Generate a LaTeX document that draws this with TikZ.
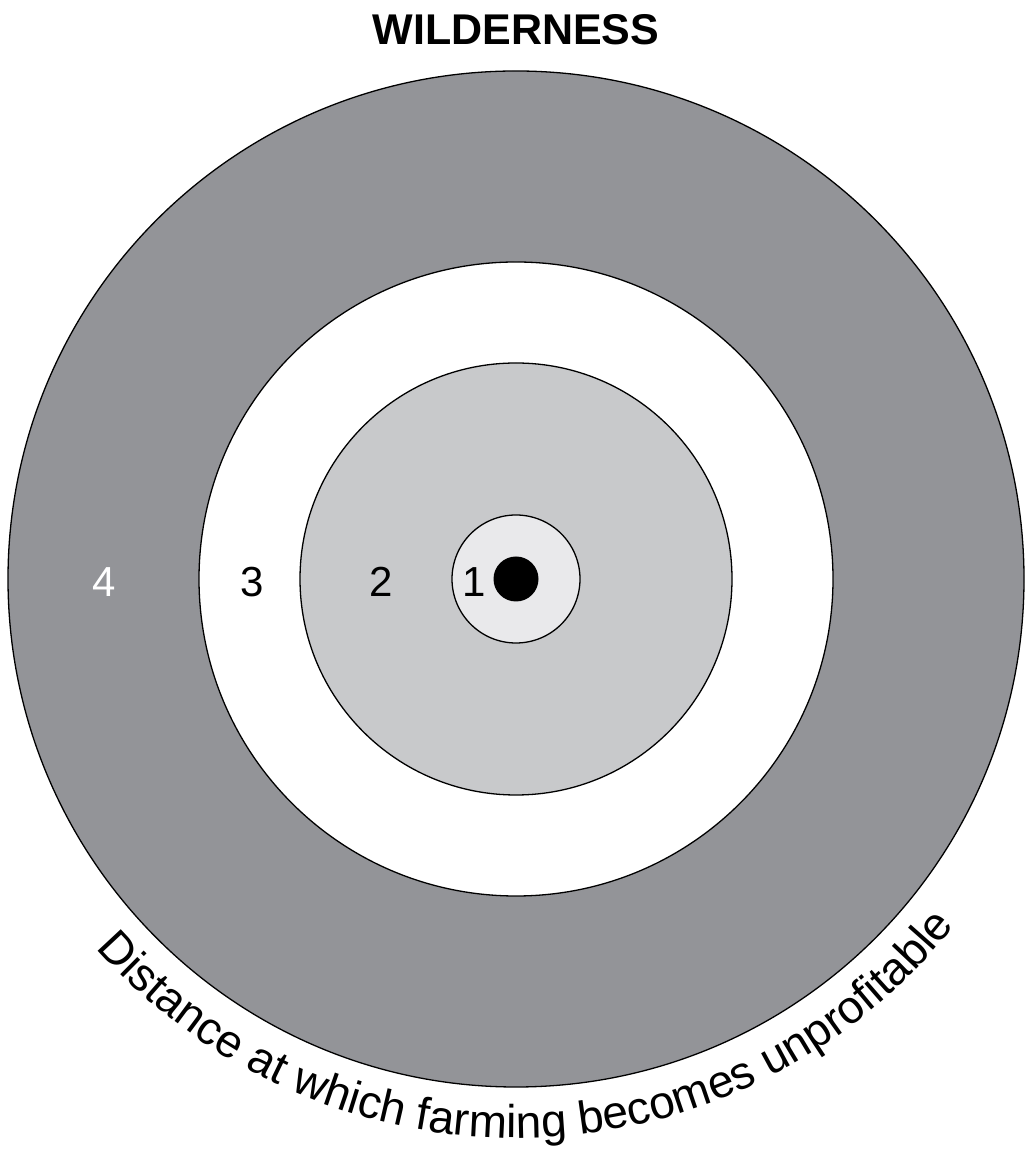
\documentclass[tikz,border=0pt]{standalone}
\usepackage{fontspec}
\setmainfont{Liberation Sans}
\usetikzlibrary{decorations.text,calc}
\definecolor{ringdark}{RGB}{147,148,152}
\definecolor{ringmid}{RGB}{200,201,203}
\definecolor{ringlight}{RGB}{233,233,235}
\begin{document}
\begin{tikzpicture}[x=1pt,y=1pt,
  ring/.style={draw=black, line width=1.3pt},
  num/.style={font=\fontsize{42}{48}\selectfont, inner sep=0pt}]
\useasboundingbox (0,0) rectangle (1031,1159);
\fill[white] (0,0) rectangle (1031,1159);
\coordinate (c) at (516,580);
\draw[ring, fill=ringdark] (c) circle[radius=508];
\draw[ring, fill=white] (c) circle[radius=317];
\draw[ring, fill=ringmid] (c) circle[radius=216];
\draw[ring, fill=ringlight] (c) circle[radius=64];
\fill[black] (c) circle[radius=22.5];
\node[num, text=white] (n4) at (104,577) {4};
\node[num] (n3) at (252,577) {3};
\node[num] (n2) at (381,577) {2};
\node[num] (n1) at (474,577) {1};
\node[font=\fontsize{43}{50}\selectfont\bfseries, inner sep=0pt] (title) at (516,1129) {WILDERNESS};
\path[decorate, decoration={text along path,
  text={|\fontsize{46}{52}\selectfont|Distance at which farming becomes unprofitable},
  text align=center}]
  ($(c)+(-141:559)$) arc[start angle=-141, end angle=-36, radius=559];
\end{tikzpicture}
\end{document}
